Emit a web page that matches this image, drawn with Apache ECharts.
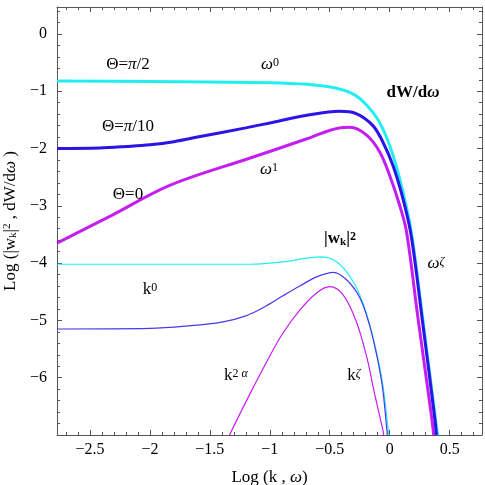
<!DOCTYPE html>
<html>
<head>
<meta charset="utf-8">
<script src="https://cdn.jsdelivr.net/npm/echarts@6/dist/echarts.min.js"></script>
<style>
html, body { margin: 0; padding: 0; background: #fff; }
#main { width: 485px; height: 485px; }
</style>
</head>
<body>
<div id="main"></div>
<script>
var chartDom = document.getElementById('main');
var myChart = echarts.init(chartDom);
var option;

// tick positions
var xMajor = [-2.5, -2, -1.5, -1, -0.5, 0, 0.5];
var yMajor = [-6, -5, -4, -3, -2, -1, 0];
var xMin = -2.775, xMax = 0.77;
var yMin = -7, yMax = 0.47;

// dW/dω (thick lines), [Log ω, value]
var dwHalfPi = [
    [-2.775, -0.82], [-2.0, -0.83], [-1.0, -0.85], [-0.69, -0.88], [-0.42, -0.96],
    [-0.28, -1.08], [-0.14, -1.37], [-0.056, -1.66], [0.028, -2.12], [0.11, -2.75],
    [0.18, -3.45], [0.275, -4.96], [0.38, -6.69], [0.40, -7.0]
];
var dwTenthPi = [
    [-2.775, -2.0], [-2.42, -1.99], [-2.2, -1.965], [-2.0, -1.935], [-1.8, -1.88],
    [-1.58, -1.79], [-1.2, -1.64], [-0.97, -1.54], [-0.69, -1.42], [-0.42, -1.35],
    [-0.28, -1.39], [-0.14, -1.6], [-0.056, -1.89], [0.028, -2.3], [0.11, -2.87],
    [0.18, -3.53], [0.27, -4.96], [0.375, -6.69], [0.39, -7.0]
];
var dwZero = [
    [-2.775, -3.65], [-2.33, -3.18], [-1.83, -2.64], [-1.17, -2.17], [-0.97, -2.03],
    [-0.69, -1.83], [-0.42, -1.64], [-0.33, -1.63], [-0.19, -1.77], [-0.083, -2.06],
    [0.0, -2.47], [0.083, -2.99], [0.14, -3.45], [0.236, -4.96], [0.35, -6.69], [0.367, -7.0]
];

// |w_k|^2 (thin lines), [Log k, value]
var wkHalfPi = [
    [-2.775, -4.02], [-2.0, -4.02], [-1.17, -4.02], [-0.89, -3.98], [-0.58, -3.89],
    [-0.47, -3.94], [-0.36, -4.15], [-0.25, -4.55], [-0.167, -5.07], [-0.10, -5.65],
    [-0.054, -6.17], [-0.012, -6.92], [-0.008, -7.0]
];
var wkTenthPi = [
    [-2.775, -5.15], [-2.0, -5.14], [-1.7, -5.1], [-1.4, -5.03], [-1.2, -4.92],
    [-1.05, -4.77], [-0.89, -4.57], [-0.75, -4.4], [-0.61, -4.24], [-0.47, -4.16],
    [-0.36, -4.29], [-0.25, -4.6], [-0.17, -5.07], [-0.104, -5.65], [-0.06, -6.17],
    [-0.023, -6.92], [-0.02, -7.0]
];
var wkZero = [
    [-1.336, -7.0], [-1.17, -6.3], [-1.0, -5.62], [-0.89, -5.22], [-0.75, -4.82],
    [-0.61, -4.52], [-0.5, -4.41], [-0.39, -4.55], [-0.28, -5.01], [-0.19, -5.65],
    [-0.125, -6.29], [-0.056, -6.92], [-0.05, -7.0]
];

var cyan = '#22eef2';
var blue = '#2c14e6';
var magenta = '#c41ef0';
var thinBlue = '#4a38ee';
var serif = '"Liberation Serif", "DejaVu Serif", serif';

var xMinor = [];
for (var i = -27; i <= 7; i++) { if (i % 5 !== 0) xMinor.push(i / 10); }
var yMinor = [];
for (var j = -34; j <= 2; j++) { if (j % 5 !== 0) yMinor.push(j / 5); }

function minus(v) { return String(v).replace('-', '\u2212'); }

function xAx(pos, ticks, len, main) {
    return {
        type: 'value', min: xMin, max: xMax, position: pos,
        axisLine: { show: main, onZero: false, lineStyle: { color: '#555', width: 1 } },
        axisTick: { show: true, inside: true, length: len, customValues: ticks, lineStyle: { color: '#555' } },
        axisLabel: { show: main && pos === 'bottom', customValues: ticks, margin: 7, formatter: minus,
            fontFamily: serif, fontSize: 16, color: '#000' },
        splitLine: { show: false }
    };
}
function yAx(pos, ticks, len, main) {
    return {
        type: 'value', min: yMin, max: yMax, position: pos,
        axisLine: { show: main, onZero: false, lineStyle: { color: '#555', width: 1 } },
        axisTick: { show: true, inside: true, length: len, customValues: ticks, lineStyle: { color: '#555' } },
        axisLabel: { show: main && pos === 'left', customValues: ticks, margin: 10, formatter: minus,
            fontFamily: serif, fontSize: 16, color: '#000' },
        splitLine: { show: false }
    };
}

var xAxes = [xAx('bottom', xMajor, 5, true), xAx('bottom', xMinor, 3, false),
             xAx('top', xMajor, 5, true), xAx('top', xMinor, 3, false)];
xAxes[0].name = '{n|Log (k , }{i|ω}{n|)}';
xAxes[0].nameLocation = 'middle';
xAxes[0].nameGap = 34;
xAxes[0].nameTextStyle = { fontFamily: serif, fontSize: 17, color: '#000',
    rich: { n: { fontFamily: serif, fontSize: 17 }, i: { fontFamily: serif, fontSize: 17, fontStyle: 'italic' } } };

var yAxes = [yAx('left', yMajor, 5, true), yAx('left', yMinor, 3, false),
             yAx('right', yMajor, 5, true), yAx('right', yMinor, 3, false)];
yAxes[0].name = '{n|Log (|w}{sub|k}{n||}{sup|2}{n| , dW/d}{i|ω}{n| )}';
yAxes[0].nameLocation = 'middle';
yAxes[0].nameRotate = 90;
yAxes[0].nameGap = 36;
yAxes[0].nameTextStyle = { fontFamily: serif, fontSize: 17, color: '#000',
    rich: {
        n: { fontFamily: serif, fontSize: 17 },
        i: { fontFamily: serif, fontSize: 17, fontStyle: 'italic' },
        sub: { fontFamily: serif, fontSize: 11, verticalAlign: 'bottom' },
        sup: { fontFamily: serif, fontSize: 11, verticalAlign: 'top' }
    } };

var rich = {
    n: { fontFamily: serif, fontSize: 17, color: '#000' },
    i: { fontFamily: serif, fontSize: 17, fontStyle: 'italic', color: '#000' },
    b: { fontFamily: serif, fontSize: 17, fontWeight: 'bold', color: '#000' },
    bi: { fontFamily: serif, fontSize: 17, fontWeight: 'bold', fontStyle: 'italic', color: '#000' },
    sup: { fontFamily: serif, fontSize: 12, verticalAlign: 'top', color: '#000' },
    supi: { fontFamily: serif, fontSize: 12, fontStyle: 'italic', verticalAlign: 'top', color: '#000' },
    bsup: { fontFamily: serif, fontSize: 12, fontWeight: 'bold', verticalAlign: 'top', color: '#000' },
    bsub: { fontFamily: serif, fontSize: 11, fontWeight: 'bold', verticalAlign: 'bottom', color: '#000' }
};

function label(x, y, text) {
    return {
        type: 'text', x: x, y: y, z: 10,
        style: { text: text, rich: rich, fontFamily: serif, fontSize: 17, fill: '#000',
            align: 'center', verticalAlign: 'middle', textAlign: 'center', textVerticalAlign: 'middle' }
    };
}

function line(data, color, width) {
    return {
        type: 'line', data: data, xAxisIndex: 0, yAxisIndex: 0,
        showSymbol: false, symbol: 'none', smooth: 0.35,
        lineStyle: { color: color, width: width }, silent: true, animation: false
    };
}

option = {
    backgroundColor: '#fff',
    animation: false,
    grid: { left: 57, right: 3, top: 7, bottom: 50, containLabel: false, outerBoundsMode: 'none' },
    xAxis: xAxes,
    yAxis: yAxes,
    series: [
        line(wkHalfPi, cyan, 1.2),
        line(wkTenthPi, thinBlue, 1.2),
        line(wkZero, magenta, 1.2),
        line(dwHalfPi, cyan, 3),
        line(dwZero, magenta, 3),
        line(dwTenthPi, blue, 3)
    ],
    graphic: [
        label(128, 65, '{n|Θ=}{i|π}{n|/2}'),
        label(128, 127, '{n|Θ=}{i|π}{n|/10}'),
        label(128, 195, '{n|Θ=0}'),
        label(270, 65, '{i|ω}{sup|0}'),
        label(269, 170, '{i|ω}{sup|1}'),
        label(413, 93, '{b|dW/d}{bi|ω}'),
        label(340, 239, '{b||w}{bsub|k}{b||}{bsup|2}'),
        label(150, 290, '{n|k}{sup|0}'),
        label(236, 376, '{n|k}{sup|2 }{supi|α}'),
        label(354, 376, '{n|k}{supi|ζ}'),
        label(436, 264, '{i|ω}{supi|ζ}')
    ]
};

option && myChart.setOption(option);
</script>
</body>
</html>
